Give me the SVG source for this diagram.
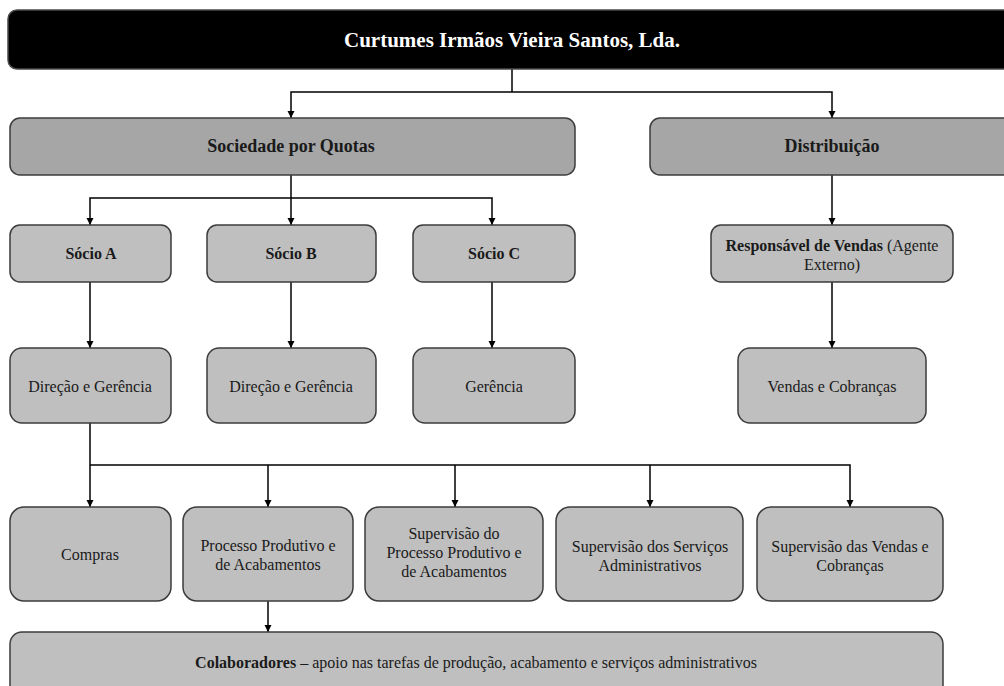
<svg xmlns="http://www.w3.org/2000/svg" width="1004" height="686" viewBox="0 0 1004 686">
<defs>
<marker id="arr" markerUnits="userSpaceOnUse" markerWidth="8" markerHeight="8" refX="7" refY="3.5" orient="auto">
<path d="M0,0 L7,3.5 L0,7 z" fill="#000"/>
</marker>
<style>
.top{fill:#000;stroke:#4a4a4a;stroke-width:1.5}
.dark{fill:#a6a6a6;stroke:#3c3c3c;stroke-width:1.5}
.box{fill:#bfbfbf;stroke:#3c3c3c;stroke-width:1.5}
.t{font-family:"Liberation Serif","Times New Roman",serif;font-size:16px;fill:#1a1a1a;text-anchor:middle}
.b{font-weight:bold}
.title{font-family:"Liberation Serif","Times New Roman",serif;font-size:21px;font-weight:bold;fill:#fff;text-anchor:middle}
.hd{font-size:18px;font-weight:bold}
.c{fill:none;stroke:#000;stroke-width:1.5;marker-end:url(#arr)}
.l{fill:none;stroke:#000;stroke-width:1.5}
</style>
</defs>
<rect width="1004" height="686" fill="#fff"/>
<g id="connectors">
<path class="l" d="M512,69 V92"/>
<path class="c" d="M512,92 H291 V118"/>
<path class="c" d="M512,92 H832 V118"/>
<path class="c" d="M291,175 V225"/>
<path class="c" d="M291,198 H90 V225"/>
<path class="c" d="M291,198 H492 V225"/>
<path class="c" d="M832,175 V225"/>
<path class="c" d="M90,282 V348"/>
<path class="c" d="M291,282 V348"/>
<path class="c" d="M492,282 V348"/>
<path class="c" d="M832,282 V348"/>
<path class="c" d="M90,423 V507"/>
<path class="c" d="M90,465 H850 V507"/>
<path class="c" d="M268,465 V507"/>
<path class="c" d="M455,465 V507"/>
<path class="c" d="M650,465 V507"/>
<path class="c" d="M268,601 V632"/>
</g>
<g id="empresa">
<rect class="top" x="8" y="10" width="1030" height="59" rx="9"/>
<text class="title" x="512" y="47">Curtumes Irmãos Vieira Santos, Lda.</text>
</g>
<g id="sociedade">
<rect class="dark" x="10" y="118" width="565" height="57" rx="10"/>
<text class="t hd" x="291" y="152">Sociedade por Quotas</text>
</g>
<g id="distribuicao">
<rect class="dark" x="650" y="118" width="400" height="57" rx="10"/>
<text class="t hd" x="832" y="152">Distribuição</text>
</g>
<g id="socio-a">
<rect class="box" x="10" y="225" width="161" height="57" rx="10"/>
<text class="t b" x="91" y="259">Sócio A</text>
</g>
<g id="socio-b">
<rect class="box" x="207" y="225" width="169" height="57" rx="10"/>
<text class="t b" x="291" y="259">Sócio B</text>
</g>
<g id="socio-c">
<rect class="box" x="413" y="225" width="162" height="57" rx="10"/>
<text class="t b" x="494" y="259">Sócio C</text>
</g>
<g id="responsavel">
<rect class="box" x="711" y="225" width="242" height="57" rx="10"/>
<text class="t" x="832" y="251"><tspan class="b">Responsável de Vendas</tspan> (Agente</text>
<text class="t" x="832" y="270">Externo)</text>
</g>
<g id="direcao-a">
<rect class="box" x="10" y="348" width="161" height="75" rx="12"/>
<text class="t" x="90" y="392">Direção e Gerência</text>
</g>
<g id="direcao-b">
<rect class="box" x="207" y="348" width="169" height="75" rx="12"/>
<text class="t" x="291" y="392">Direção e Gerência</text>
</g>
<g id="gerencia">
<rect class="box" x="413" y="348" width="162" height="75" rx="12"/>
<text class="t" x="494" y="392">Gerência</text>
</g>
<g id="vendas">
<rect class="box" x="738" y="348" width="188" height="75" rx="12"/>
<text class="t" x="832" y="392">Vendas e Cobranças</text>
</g>
<g id="compras">
<rect class="box" x="10" y="507" width="161" height="94" rx="14"/>
<text class="t" x="90" y="560">Compras</text>
</g>
<g id="processo">
<rect class="box" x="183" y="507" width="170" height="94" rx="14"/>
<text class="t" x="268" y="551">Processo Produtivo e</text>
<text class="t" x="268" y="570">de Acabamentos</text>
</g>
<g id="sup-processo">
<rect class="box" x="365" y="507" width="178" height="94" rx="14"/>
<text class="t" x="454" y="539">Supervisão do</text>
<text class="t" x="454" y="558">Processo Produtivo e</text>
<text class="t" x="454" y="577">de Acabamentos</text>
</g>
<g id="sup-servicos">
<rect class="box" x="556" y="507" width="187" height="94" rx="14"/>
<text class="t" x="650" y="552">Supervisão dos Serviços</text>
<text class="t" x="650" y="571">Administrativos</text>
</g>
<g id="sup-vendas">
<rect class="box" x="757" y="507" width="186" height="94" rx="14"/>
<text class="t" x="850" y="552">Supervisão das Vendas e</text>
<text class="t" x="850" y="571">Cobranças</text>
</g>
<g id="colaboradores">
<rect class="box" x="10" y="632" width="933" height="70" rx="12"/>
<text class="t" x="476" y="668"><tspan class="b">Colaboradores</tspan> – apoio nas tarefas de produção, acabamento e serviços administrativos</text>
</g>
</svg>
